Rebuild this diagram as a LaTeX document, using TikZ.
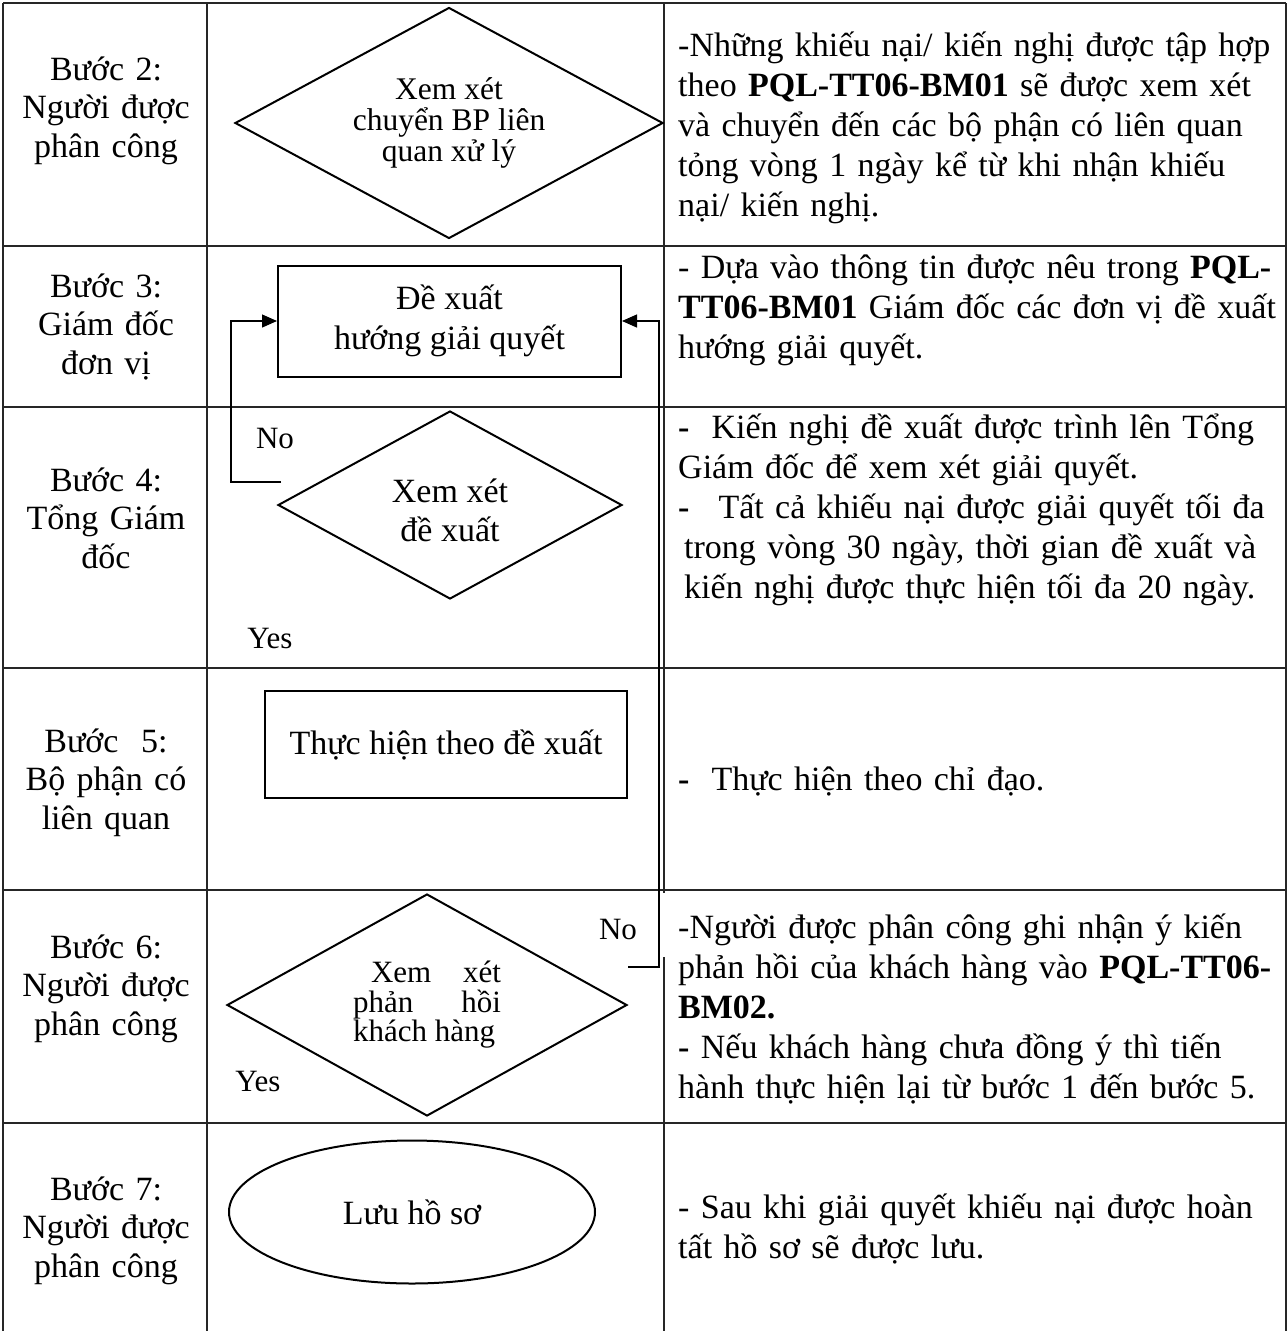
\documentclass[tikz,border=0pt]{standalone}
\usepackage{fontspec}
\setmainfont{Liberation Serif}
\usetikzlibrary{shapes.geometric,arrows.meta}
\begin{document}
\begin{tikzpicture}[x=1pt,y=-1pt,
  tbl/.style={line width=1.3pt, draw=black!85},
  flow/.style={draw, line width=2pt, inner sep=0pt, align=center, font=\fontsize{34pt}{40pt}\selectfont},
  conn/.style={line width=1.3pt},
  arr/.style={-{Triangle[length=15pt,width=13pt]}},
  lefttxt/.style={anchor=base, align=center, text width=200pt, inner sep=0pt, font=\fontsize{34pt}{38.5pt}\selectfont},
  righttxt/.style={anchor=base west, align=left, text width=640pt, inner sep=0pt, font=\fontsize{34pt}{40pt}\selectfont},
  lbl/.style={anchor=base, inner sep=0pt, font=\fontsize{31pt}{31pt}\selectfont},
  intext/.style={align=center, inner sep=0pt}
]
\useasboundingbox (0,0) rectangle (1288,1331);
\fill[white] (0,0) rectangle (1288,1331);

% table grid
\draw[tbl] (3,3) -- (1286,3);
\foreach \yy in {246,407,668,890,1123} {\draw[tbl] (3,\yy) -- (1286,\yy);}
\draw[tbl] (3,3) -- (3,1331);
\draw[tbl] (207,3) -- (207,1331);
\draw[tbl] (664,3) -- (664,893);
\draw[tbl] (664,957) -- (664,1331);
\draw[tbl] (1286,3) -- (1286,1331);

% left column
\node[lefttxt] (s2) at (106,80) {Bước 2:\\Người được\\phân công\hspace*{26pt}};
\node[lefttxt] (s3) at (106,297) {Bước 3:\\Giám đốc\\đơn vị};
\node[lefttxt] (s4) at (106,491) {Bước 4:\\Tổng Giám\\đốc};
\node[lefttxt] (s5) at (106,752) {Bước\ \ 5:\\Bộ phận có\\liên quan};
\node[lefttxt] (s6) at (106,958) {Bước 6:\\Người được\\phân công\hspace*{26pt}};
\node[lefttxt] (s7) at (106,1200) {Bước 7:\\Người được\\phân công\hspace*{26pt}};

% right column
\node[righttxt] (t2) at (678,56) {-Những khiếu nại/ kiến nghị được tập hợp\\theo \textbf{PQL-TT06-BM01} sẽ được xem xét\\và chuyển đến các bộ phận có liên quan\\tỏng vòng 1 ngày kể từ khi nhận khiếu\\nại/ kiến nghị.};
\node[righttxt] (t3) at (678,278) {- Dựa vào thông tin được nêu trong \textbf{PQL-}\\\textbf{TT06-BM01} Giám đốc các đơn vị đề xuất\\hướng giải quyết.};
\node[righttxt] (t4) at (678,438) {\textbf{-}\hspace*{22pt}Kiến nghị đề xuất được trình lên Tổng\\Giám đốc để xem xét giải quyết.\\\textbf{-}\hspace*{29pt}Tất cả khiếu nại được giải quyết tối đa\\\hspace*{6pt}trong vòng 30 ngày, thời gian đề xuất và\\\hspace*{6pt}kiến nghị được thực hiện tối đa 20 ngày.};
\node[righttxt] (t5) at (678,790) {\textbf{-}\hspace*{22pt}Thực hiện theo chỉ đạo.};
\node[righttxt] (t6) at (678,938) {-Người được phân công ghi nhận ý kiến\\phản hồi của khách hàng vào \textbf{PQL-TT06-}\\\textbf{BM02.}\\\textbf{-} Nếu khách hàng chưa đồng ý thì tiến\\hành thực hiện lại từ bước 1 đến bước 5.};
\node[righttxt] (t7) at (678,1218) {- Sau khi giải quyết khiếu nại được hoàn\\tất hồ sơ sẽ được lưu.};

% flow shapes
\node[flow, diamond, aspect=1.853, minimum width=428pt, minimum height=231pt, font=\fontsize{31.5pt}{31pt}\selectfont] (d1) at (449,123) {Xem xét\\chuyển BP liên\\quan xử lý};
\node[flow, rectangle, minimum width=343pt, minimum height=111pt] (r1) at (449.5,321) {Đề xuất\\hướng giải quyết};
\node[flow, diamond, aspect=1.83, minimum width=344pt, minimum height=188pt] (d2) at (450,505) {};
\node[intext, font=\fontsize{34pt}{39pt}\selectfont] (d2t) at (450,510) {Xem xét\\đề xuất};
\node[flow, rectangle, minimum width=362pt, minimum height=107pt] (r2) at (446,744.5) {Thực hiện theo đề xuất};
\node[flow, diamond, aspect=1.8, minimum width=400pt, minimum height=222pt, font=\fontsize{31pt}{29.5pt}\selectfont] (d3) at (427,1005) {\parbox{148pt}{\hspace*{18pt}Xem\hfill xét\\phản\hfill hồi\\khách hàng}};
\node[flow, ellipse, minimum width=366pt, minimum height=143pt] (e1) at (412,1212) {Lưu hồ sơ};

% labels
\node[lbl] (no1) at (275,448) {No};
\node[lbl] (yes1) at (270,648) {Yes};
\node[lbl] (no2) at (618,939) {No};
\node[lbl] (yes2) at (258,1091) {Yes};

% connectors
\coordinate (nA) at (281,482);
\coordinate (nL) at (231,482);
\draw[conn,arr] (nA) -- (nL) |- (r1.west);
\coordinate (nB) at (628,967);
\coordinate (nR) at (659,967);
\draw[conn,arr] (nB) -- (nR) |- (r1.east);
\end{tikzpicture}
\end{document}
